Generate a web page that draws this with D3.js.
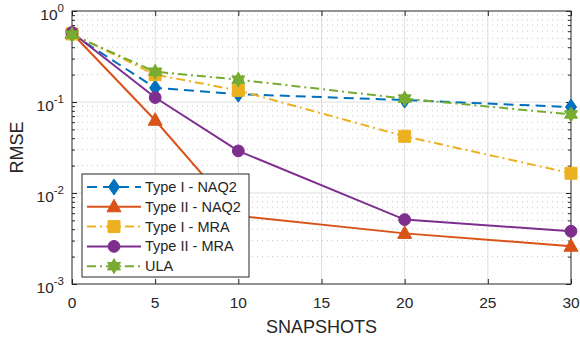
<!DOCTYPE html>
<html>
<head>
<meta charset="utf-8">
<script src="https://cdn.jsdelivr.net/npm/d3@7"></script>
<style>
  body { margin: 0; background: #fff; }
  svg text { font-family: "Liberation Sans", Arial, sans-serif; fill: #262626; }
</style>
</head>
<body>
<div id="chart"></div>
<script>
// snapshots on the x axis
const snapshots = [0, 5, 10, 20, 30];

// RMSE per method
const typeINaq2 = [0.56, 0.143, 0.122, 0.105, 0.088];
const typeIINaq2 = [0.57, 0.063, 0.0056, 0.0036, 0.0026];
const typeIMra = [0.56, 0.200, 0.134, 0.042, 0.0165];
const typeIIMra = [0.58, 0.112, 0.029, 0.0051, 0.0038];
const ula = [0.55, 0.215, 0.176, 0.109, 0.073];

const seriesNames = ["Type I - NAQ2", "Type II - NAQ2", "Type I - MRA", "Type II - MRA", "ULA"];
const xTicks = [0, 5, 10, 15, 20, 25, 30];
const yTicks = [1e-3, 1e-2, 1e-1, 1];

const colors = ["#0072BD", "#D95319", "#EDB120", "#7E2F8E", "#77AC30"];
const dashes = ["10,6", null, "9,4,2,4", null, "9,4,2,4"];
const markers = ["diamond", "triangle", "square", "circle", "hexagram"];

const series = [typeINaq2, typeIINaq2, typeIMra, typeIIMra, ula].map((vals, i) => ({
  name: seriesNames[i],
  color: colors[i],
  dash: dashes[i],
  marker: markers[i],
  values: vals.map((v, j) => ({ x: snapshots[j], y: v }))
}));

const width = 580, height = 337;
const margin = { top: 11, right: 9, bottom: 53, left: 72 };

const svg = d3.select("#chart").append("svg")
  .attr("width", width)
  .attr("height", height);

const x = d3.scaleLinear().domain([0, 30])
  .range([margin.left, width - margin.right]);
const y = d3.scaleLog().domain([1e-3, 1])
  .range([height - margin.bottom, margin.top]);

const x0 = margin.left, x1 = width - margin.right;
const y0 = height - margin.bottom, y1 = margin.top;

// minor log values
const minors = [];
for (let e = -3; e < 0; e++) {
  for (let m = 2; m <= 9; m++) minors.push(m * Math.pow(10, e));
}

const grid = svg.append("g");
grid.selectAll(".minor")
  .data(minors)
  .join("line")
  .attr("x1", x0).attr("x2", x1)
  .attr("y1", d => y(d)).attr("y2", d => y(d))
  .attr("stroke", "#c8c8c8")
  .attr("stroke-width", 1)
  .attr("stroke-dasharray", "1,4");
grid.selectAll(".vmajor")
  .data(xTicks.slice(1, -1))
  .join("line")
  .attr("x1", d => x(d)).attr("x2", d => x(d))
  .attr("y1", y0).attr("y2", y1)
  .attr("stroke", "#dedede");
grid.selectAll(".hmajor")
  .data(yTicks.slice(1, -1))
  .join("line")
  .attr("x1", x0).attr("x2", x1)
  .attr("y1", d => y(d)).attr("y2", d => y(d))
  .attr("stroke", "#dedede");

// axes with inward ticks (MATLAB box)
const axisCol = "#262626";
const tickFmt = () => "";
svg.append("g")
  .attr("transform", `translate(0,${y0})`)
  .call(d3.axisTop(x).tickValues(xTicks).tickSize(5).tickFormat(tickFmt).tickSizeOuter(0));
svg.append("g")
  .attr("transform", `translate(0,${y1})`)
  .call(d3.axisBottom(x).tickValues(xTicks).tickSize(5).tickFormat(tickFmt).tickSizeOuter(0));
svg.append("g")
  .attr("transform", `translate(${x0},0)`)
  .call(d3.axisRight(y).tickValues(yTicks).tickSize(5).tickFormat(tickFmt).tickSizeOuter(0));
svg.append("g")
  .attr("transform", `translate(${x1},0)`)
  .call(d3.axisLeft(y).tickValues(yTicks).tickSize(5).tickFormat(tickFmt).tickSizeOuter(0));
svg.append("g")
  .attr("transform", `translate(${x0},0)`)
  .call(d3.axisRight(y).tickValues(minors).tickSize(3).tickFormat(tickFmt).tickSizeOuter(0));
svg.append("g")
  .attr("transform", `translate(${x1},0)`)
  .call(d3.axisLeft(y).tickValues(minors).tickSize(3).tickFormat(tickFmt).tickSizeOuter(0));
svg.selectAll(".domain").remove();
svg.selectAll(".tick line").attr("stroke", axisCol);

svg.append("rect")
  .attr("x", x0).attr("y", y1)
  .attr("width", x1 - x0).attr("height", y0 - y1)
  .attr("fill", "none")
  .attr("stroke", axisCol)
  .attr("stroke-width", 1);

// tick labels
svg.append("g").selectAll("text")
  .data(xTicks)
  .join("text")
  .attr("x", d => x(d))
  .attr("y", y0 + 24)
  .attr("text-anchor", "middle")
  .attr("font-size", 15.5)
  .text(d => d);

const ylab = svg.append("g").selectAll("text")
  .data(yTicks)
  .join("text")
  .attr("x", x0 - 8)
  .attr("y", d => y(d) + 9)
  .attr("text-anchor", "end")
  .attr("font-size", 15.5);
ylab.append("tspan").text("10");
ylab.append("tspan")
  .attr("dy", -8)
  .attr("font-size", 11.5)
  .text(d => Math.round(Math.log10(d)));

svg.append("text")
  .attr("x", (x0 + x1) / 2)
  .attr("y", 333)
  .attr("text-anchor", "middle")
  .attr("font-size", 18)
  .text("SNAPSHOTS");
svg.append("text")
  .attr("transform", `translate(23,${(y0 + y1) / 2}) rotate(-90)`)
  .attr("text-anchor", "middle")
  .attr("font-size", 18)
  .text("RMSE");

// marker shapes
const hexagram = (() => {
  const pts = [];
  for (let k = 0; k < 12; k++) {
    const r = k % 2 === 0 ? 7.5 : 4.3;
    const a = -Math.PI / 2 + k * Math.PI / 6;
    pts.push([r * Math.cos(a), r * Math.sin(a)]);
  }
  return "M" + pts.map(p => p.join(",")).join("L") + "Z";
})();
const markerPath = {
  diamond: "M0,-8L5.5,0L0,8L-5.5,0Z",
  triangle: "M0,-7.5L7,5L-7,5Z",
  square: "M-6,-6L6,-6L6,6L-6,6Z",
  circle: d3.symbol(d3.symbolCircle, 110)(),
  hexagram: hexagram
};

const line = d3.line().x(d => x(d.x)).y(d => y(d.y));

const plot = svg.append("g");
series.forEach(s => {
  plot.append("path")
    .datum(s.values)
    .attr("d", line)
    .attr("fill", "none")
    .attr("stroke", s.color)
    .attr("stroke-width", 2)
    .attr("stroke-dasharray", s.dash);
  plot.selectAll(null)
    .data(s.values)
    .join("path")
    .attr("transform", d => `translate(${x(d.x)},${y(d.y)})`)
    .attr("d", markerPath[s.marker])
    .attr("fill", s.color)
    .attr("stroke", s.color);
});

// legend
const legend = svg.append("g");
legend.append("rect")
  .attr("x", 82).attr("y", 174)
  .attr("width", 167).attr("height", 103)
  .attr("fill", "#fff")
  .attr("stroke", axisCol)
  .attr("stroke-width", 1);
series.forEach((s, i) => {
  const ly = 187 + i * 19.8;
  legend.append("line")
    .attr("x1", 87).attr("x2", 141)
    .attr("y1", ly).attr("y2", ly)
    .attr("stroke", s.color)
    .attr("stroke-width", 2)
    .attr("stroke-dasharray", s.dash);
  legend.append("path")
    .attr("transform", `translate(114,${ly})`)
    .attr("d", markerPath[s.marker])
    .attr("fill", s.color)
    .attr("stroke", s.color);
  legend.append("text")
    .attr("x", 145)
    .attr("y", ly + 5)
    .attr("font-size", 14.5)
    .text(s.name);
});
</script>
</body>
</html>
